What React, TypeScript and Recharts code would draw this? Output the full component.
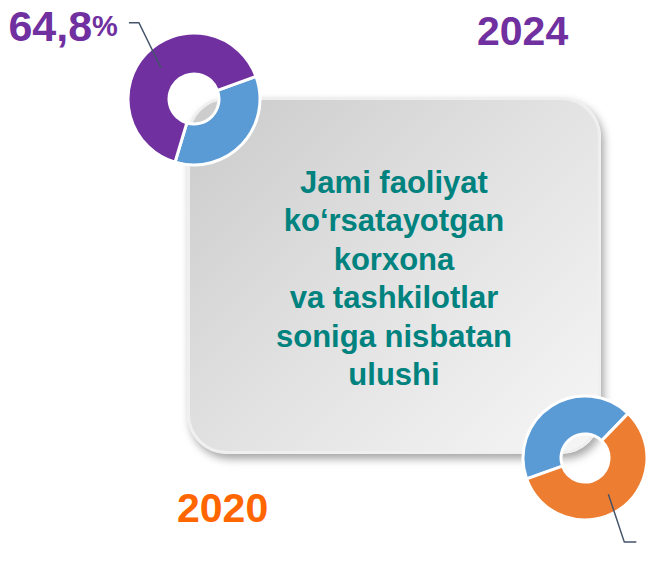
import { Cell, Pie, PieChart } from 'recharts'

// shares of active enterprises (per cent): [other, highlighted]
const sliceNames = ['Boshqalar', 'Ulushi']
const share2024 = [35.2, 64.8]
const share2020 = [42.7, 57.3]
const years = ['2024', '2020']
const titleLines = [
  'Jami faoliyat',
  'ko‘rsatayotgan',
  'korxona',
  'va tashkilotlar',
  'soniga nisbatan',
  'ulushi',
]

const FONT = '"Liberation Sans", Arial, Helvetica, sans-serif'
const BLUE = '#5B9BD5'
const PURPLE = '#7030A0'
const ORANGE = '#ED7D31'
const LEADER = '#44546A'
const TEAL = '#00827F'
const RADIAN = Math.PI / 180

const rows2024 = sliceNames.map((name, i) => ({ name, value: share2024[i] }))
const rows2020 = sliceNames.map((name, i) => ({ name, value: share2020[i] }))

type LeaderOpts = { dx: number; dy: number; tail: number; showText: boolean; color: string }

function leaderLabel(opts: LeaderOpts) {
  return (props: any) => {
    if (props.index !== 1) return null
    const { cx, cy, midAngle, innerRadius, outerRadius, value } = props
    const r = (innerRadius + outerRadius) / 2
    const x0 = cx + r * Math.cos(-midAngle * RADIAN)
    const y0 = cy + r * Math.sin(-midAngle * RADIAN)
    const x1 = x0 + opts.dx
    const y1 = y0 + opts.dy
    const x2 = x1 + opts.tail
    const txt = String(value.toFixed(1)).replace('.', ',')
    return (
      <g>
        <polyline
          points={`${x0},${y0} ${x1},${y1} ${x2},${y1}`}
          fill="none"
          stroke={LEADER}
          strokeWidth={1.5}
        />
        {opts.showText && (
          <text
            x={x2 - 11}
            y={y1 + 3}
            textAnchor="end"
            dominantBaseline="central"
            fill={opts.color}
            fontFamily={FONT}
            fontWeight="bold"
            fontSize={43}
          >
            {txt}
            <tspan fontSize={29}>%</tspan>
          </text>
        )}
      </g>
    )
  }
}

export default function App() {
  return (
    <div
      style={{
        position: 'absolute',
        left: 0,
        top: 0,
        width: 646,
        height: 562,
        background: '#fff',
        overflow: 'hidden',
        fontFamily: FONT,
      }}
    >
      {/* centre panel */}
      <div
        style={{
          position: 'absolute',
          left: 187,
          top: 97,
          width: 408,
          height: 351,
          borderRadius: 40,
          border: '3px solid #EFEFEF',
          background: 'linear-gradient(135deg, #CBCBCB 0%, #E2E2E2 50%, #F6F6F6 100%)',
          boxShadow: '3px 5px 9px rgba(0,0,0,0.35)',
        }}
      />
      <div
        style={{
          position: 'absolute',
          left: 187,
          top: 164,
          width: 414,
          textAlign: 'center',
          color: TEAL,
          fontWeight: 'bold',
          fontSize: 31,
          lineHeight: '38.4px',
        }}
      >
        {titleLines.map((l) => (
          <div key={l}>{l}</div>
        ))}
      </div>

      <div
        style={{
          position: 'absolute',
          left: 477,
          top: 8,
          color: PURPLE,
          fontWeight: 'bold',
          fontSize: 41,
          lineHeight: '46px',
        }}
      >
        {years[0]}
      </div>
      <div
        style={{
          position: 'absolute',
          left: 177,
          top: 485,
          color: '#FF6600',
          fontWeight: 'bold',
          fontSize: 41,
          lineHeight: '46px',
        }}
      >
        {years[1]}
      </div>

      <PieChart
        width={646}
        height={562}
        margin={{ top: 0, right: 0, bottom: 0, left: 0 }}
        style={{ position: 'absolute', left: 0, top: 0 }}
      >
        <Pie
          data={rows2024}
          dataKey="value"
          nameKey="name"
          cx={194}
          cy={99}
          innerRadius={25}
          outerRadius={66}
          startAngle={20}
          endAngle={-340}
          stroke="#fff"
          strokeWidth={3}
          labelLine={false}
          label={leaderLabel({ dx: -22, dy: -45, tail: -10, showText: true, color: PURPLE })}
          isAnimationActive={false}
        >
          <Cell fill={BLUE} />
          <Cell fill={PURPLE} />
        </Pie>
        <Pie
          data={rows2020}
          dataKey="value"
          nameKey="name"
          cx={585}
          cy={458}
          innerRadius={24}
          outerRadius={62}
          startAngle={46}
          endAngle={406}
          stroke="#fff"
          strokeWidth={3}
          labelLine={false}
          label={leaderLabel({ dx: 16, dy: 48, tail: 12, showText: false, color: ORANGE })}
          isAnimationActive={false}
        >
          <Cell fill={BLUE} />
          <Cell fill={ORANGE} />
        </Pie>
      </PieChart>
    </div>
  )
}
